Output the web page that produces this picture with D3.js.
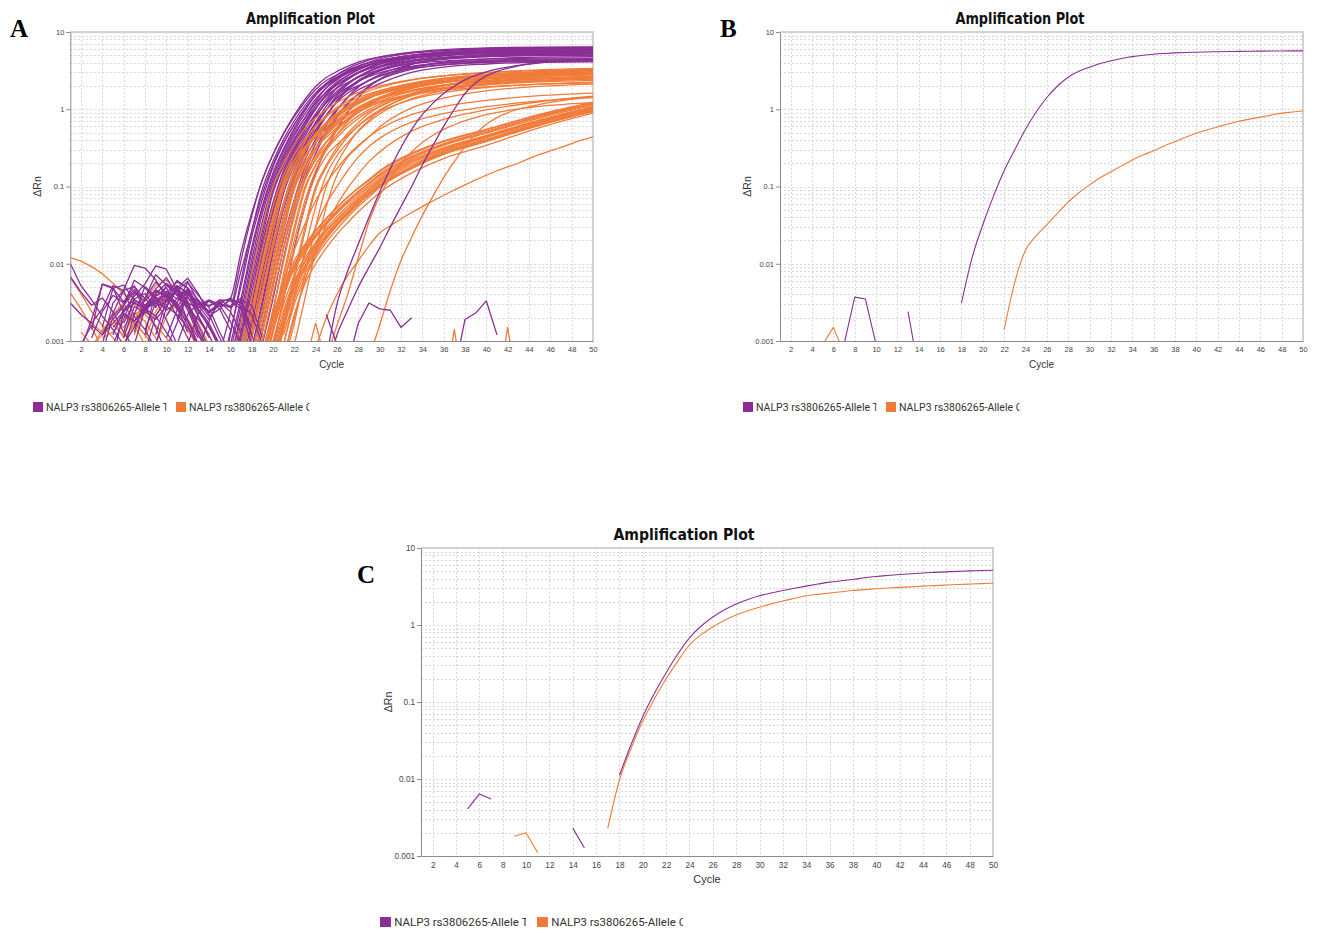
<!DOCTYPE html>
<html>
<head>
<meta charset="utf-8">
<script src="https://cdn.jsdelivr.net/npm/d3@7"></script>
<style>
  body { margin: 0; background: #fff; }
  svg { display: block; }
</style>
</head>
<body>
<svg id="fig" width="1319" height="934"></svg>
<script>
// ---------- shared labels ----------
const seriesNames = ["NALP3 rs3806265-Allele T", "NALP3 rs3806265-Allele C"];
const plotTitle = "Amplification Plot";
const xLabel = "Cycle";
const yLabel = "ΔRn";
const cycleTicks = [2, 4, 6, 8, 10, 12, 14, 16, 18, 20, 22, 24, 26, 28, 30, 32, 34, 36, 38, 40, 42, 44, 46, 48, 50];
const deltaRnTicks = [0.001, 0.01, 0.1, 1, 10];
const deltaRnTickLabels = ["0.001", "0.01", "0.1", "1", "10"];

// ---------- panel A: all wells ----------
// amplification curves sampled at these cycles (0 = ΔRn not positive)
const aKnotCycles = [15, 16, 17, 18, 19, 20, 21, 22, 23, 24, 25, 26, 27, 28, 29, 30, 33, 36, 40, 45, 50];

const aAlleleTCurves = [
  [0.0007,0.0023,0.011,0.041,0.122,0.26,0.49,0.84,1.34,1.97,2.57,3.09,3.58,4.07,4.45,4.77,5.42,5.8,6.06,6.18,6.2],
  [0.0003,0.0012,0.006,0.026,0.092,0.21,0.41,0.71,1.12,1.64,2.15,2.58,3.03,3.45,3.82,4.10,4.70,5.04,5.28,5.38,5.40],
  [0.00036,0.0013,0.0051,0.022,0.068,0.177,0.36,0.63,1.02,1.56,2.12,2.63,3.13,3.59,3.97,4.3,4.98,5.36,5.63,5.76,5.8],
  [0.00025,0.00089,0.0035,0.016,0.056,0.15,0.31,0.57,0.96,1.52,2.16,2.79,3.36,3.86,4.33,4.70,5.49,5.92,6.24,6.38,6.4],
  [0.00021,0.00074,0.0029,0.0138,0.051,0.138,0.287,0.53,0.87,1.36,1.89,2.40,2.92,3.36,3.76,4.08,4.80,5.18,5.46,5.6,5.62],
  [0.00014,0.00055,0.0023,0.011,0.044,0.123,0.26,0.49,0.77,1.21,1.67,2.09,2.55,2.93,3.33,3.62,4.27,4.61,4.87,5.0,5.0],
  [0.00024,0.0006,0.0019,0.0091,0.035,0.11,0.24,0.45,0.78,1.27,1.9,2.51,3.07,3.58,4.06,4.5,5.32,5.76,6.08,6.28,6.3],
  [0.0002,0.0005,0.0016,0.0076,0.030,0.10,0.22,0.41,0.68,1.04,1.48,1.88,2.21,2.59,2.94,3.26,3.88,4.21,4.45,4.58,4.6],
  [0.00017,0.00042,0.0013,0.0063,0.026,0.091,0.20,0.39,0.70,1.13,1.70,2.26,2.76,3.29,3.73,4.14,4.95,5.38,5.70,5.88,5.9],
  [0.00014,0.00034,0.0011,0.0052,0.022,0.082,0.186,0.36,0.64,1.03,1.55,2.08,2.53,3.01,3.42,3.84,4.62,5.03,5.32,5.48,5.5],
  [0.00012,0.0003,0.0011,0.0042,0.0186,0.062,0.164,0.335,0.60,1.0,1.56,2.18,2.71,3.23,3.72,4.16,5.02,5.5,5.86,6.03,6.1],
  [0.0001,0.00025,0.0009,0.0035,0.016,0.056,0.15,0.31,0.54,0.83,1.21,1.60,1.91,2.30,2.64,2.96,3.60,3.95,4.21,4.34,4.4],
  [0.00008,0.00021,0.00074,0.0029,0.0138,0.051,0.138,0.287,0.54,0.88,1.37,1.91,2.42,2.95,3.39,3.80,4.65,5.11,5.45,5.62,5.7],
  [0.00007,0.00017,0.00061,0.0024,0.0119,0.046,0.127,0.267,0.49,0.79,1.23,1.72,2.17,2.65,3.05,3.47,4.25,4.68,5.0,5.14,5.2],
  [0,0.00012,0.0006,0.0019,0.0091,0.035,0.11,0.24,0.45,0.78,1.27,1.89,2.49,3.02,3.51,3.99,4.98,5.51,5.91,6.12,6.2],
  [0,0.0001,0.0005,0.0016,0.0076,0.030,0.10,0.22,0.41,0.66,0.99,1.39,1.75,2.02,2.37,2.69,3.39,3.76,4.03,4.17,4.2],
  [0,0.00008,0.00042,0.0013,0.0063,0.026,0.091,0.20,0.39,0.68,1.10,1.63,2.17,2.64,3.13,3.55,4.5,5.0,5.37,5.54,5.6],
  [0,0.00007,0.00034,0.0011,0.0052,0.022,0.082,0.186,0.36,0.62,0.98,1.44,1.90,2.29,2.73,3.11,3.98,4.44,4.78,4.95,5.0],
  [0,0,0.0003,0.0011,0.0042,0.0186,0.062,0.164,0.335,0.60,0.98,1.52,2.09,2.61,3.11,3.6,4.65,5.21,5.61,5.84,5.9],
  [0,0,0.0002,0.0008,0.0033,0.015,0.054,0.145,0.30,0.54,0.84,1.23,1.62,1.96,2.36,2.71,3.54,3.97,4.27,4.45,4.5],
  [0,0,0.00021,0.00075,0.0029,0.0138,0.051,0.138,0.287,0.52,0.83,1.28,1.78,2.25,2.74,3.16,4.13,4.65,5.02,5.23,5.3],
  [0,0,0.00015,0.0007,0.0023,0.011,0.041,0.122,0.26,0.49,0.81,1.28,1.84,2.37,2.81,3.25,4.3,4.9,5.31,5.52,5.6],
  [0,0,0.0001,0.0005,0.0016,0.0076,0.030,0.10,0.22,0.41,0.67,1.0,1.41,1.79,2.07,2.43,3.29,3.77,4.09,4.26,4.3],
  [0,0,0,0.00036,0.0013,0.0051,0.0216,0.068,0.177,0.36,0.62,0.97,1.44,1.93,2.37,2.81,3.85,4.47,4.88,5.14,5.2],
  [0,0,0,0.00025,0.0009,0.0035,0.016,0.056,0.15,0.31,0.54,0.82,1.20,1.56,1.86,2.15,3.01,3.52,3.85,4.06,4.1],
  [0,0,0,0.00017,0.00062,0.0024,0.0119,0.046,0.127,0.267,0.49,0.77,1.15,1.57,1.98,2.41,3.45,4.08,4.5,4.73,4.8],
  [0.0028,0.0035,0.014,0.045,0.12,0.26,0.48,0.8,1.25,1.8,2.35,2.8,3.25,3.65,4.0,4.3,4.95,5.3,5.55,5.7,5.75],
  [0.003,0.0028,0.008,0.026,0.08,0.19,0.37,0.64,1.02,1.52,2.05,2.5,2.95,3.35,3.7,4.0,4.65,5.0,5.25,5.35,5.4],
  [0,0,0,0,0.00025,0.00089,0.0035,0.016,0.056,0.15,0.31,0.56,0.91,1.41,1.95,2.45,3.8,4.6,5.1,5.4,5.5]
];

const aAlleleCCurves = [
  // upper group
  [0.0001,0.0005,0.0017,0.0075,0.03,0.10,0.20,0.35,0.56,0.77,1.0,1.22,1.44,1.65,1.83,2.0,2.42,2.70,2.96,3.17,3.28],
  [0,0.00025,0.0009,0.0036,0.015,0.055,0.14,0.26,0.41,0.60,0.80,1.01,1.21,1.41,1.59,1.74,2.14,2.42,2.68,2.87,2.97],
  [0,0.00015,0.0007,0.0025,0.011,0.041,0.12,0.22,0.325,0.44,0.56,0.71,0.86,1.01,1.15,1.26,1.55,1.76,1.95,2.11,2.2],
  [0,0.00012,0.0006,0.002,0.009,0.035,0.11,0.214,0.38,0.61,0.82,1.06,1.29,1.52,1.73,1.92,2.39,2.71,3.0,3.24,3.38],
  [0,0.0001,0.0007,0.0022,0.009,0.032,0.10,0.19,0.32,0.48,0.66,0.85,1.04,1.23,1.40,1.56,1.96,2.23,2.48,2.67,2.79],
  [0,0.00008,0.00042,0.0014,0.0063,0.026,0.091,0.187,0.31,0.49,0.67,0.88,1.08,1.28,1.48,1.65,2.08,2.4,2.66,2.88,3.0],
  [0,0,0.00029,0.0012,0.0046,0.019,0.062,0.161,0.29,0.45,0.63,0.83,1.03,1.23,1.42,1.58,1.99,2.28,2.55,2.77,2.89],
  [0,0,0.0003,0.0011,0.0043,0.0174,0.06,0.15,0.286,0.45,0.67,0.89,1.11,1.33,1.53,1.72,2.18,2.52,2.81,3.05,3.18],
  [0,0,0.0003,0.0011,0.004,0.016,0.056,0.14,0.25,0.37,0.52,0.69,0.87,1.05,1.22,1.37,1.75,2.03,2.27,2.46,2.56],
  [0,0,0.00015,0.0007,0.0025,0.011,0.041,0.12,0.23,0.38,0.58,0.78,1.0,1.21,1.41,1.6,2.05,2.39,2.68,2.92,3.06],
  [0,0,0.00012,0.0006,0.002,0.009,0.035,0.11,0.203,0.32,0.43,0.58,0.75,0.91,1.07,1.22,1.58,1.85,2.07,2.26,2.37],
  [0,0,0.0001,0.0005,0.0017,0.0075,0.03,0.10,0.19,0.31,0.46,0.63,0.82,1.0,1.18,1.35,1.76,2.07,2.33,2.54,2.66],
  [0,0,0.0001,0.0004,0.0013,0.006,0.026,0.092,0.18,0.31,0.48,0.66,0.87,1.07,1.26,1.44,1.88,2.21,2.49,2.71,2.85],
  [0,0,0,0.00036,0.0013,0.0052,0.02,0.066,0.161,0.30,0.48,0.71,0.94,1.17,1.38,1.6,2.1,2.49,2.82,3.07,3.23],
  [0,0,0,0.0003,0.001,0.004,0.016,0.058,0.14,0.25,0.38,0.54,0.72,0.91,1.09,1.27,1.70,2.03,2.31,2.52,2.65],
  [0,0,0,0.00015,0.0007,0.0025,0.011,0.041,0.12,0.23,0.37,0.56,0.76,0.97,1.17,1.36,1.85,2.21,2.53,2.78,2.93],
  [0,0,0,0.00017,0.00062,0.0025,0.011,0.046,0.122,0.22,0.33,0.47,0.64,0.82,0.99,1.16,1.58,1.9,2.17,2.37,2.5],
  [0,0,0,0.0001,0.0005,0.0017,0.0075,0.03,0.10,0.19,0.30,0.43,0.59,0.76,0.93,1.10,1.53,1.84,2.12,2.33,2.46],
  [0,0,0,0.00008,0.00042,0.0014,0.0063,0.026,0.091,0.187,0.32,0.53,0.74,0.97,1.19,1.41,1.98,2.41,2.78,3.06,3.23],
  [0,0,0,0,0.00036,0.0013,0.0052,0.02,0.066,0.161,0.30,0.47,0.69,0.92,1.13,1.35,1.9,2.31,2.68,2.96,3.13],
  [0,0,0,0,0.00025,0.0009,0.0036,0.015,0.055,0.14,0.25,0.35,0.46,0.61,0.77,0.93,1.33,1.64,1.91,2.12,2.24],
  [0,0,0,0,0.0001,0.0005,0.0017,0.0075,0.03,0.10,0.19,0.32,0.49,0.67,0.88,1.07,1.61,2.01,2.36,2.64,2.80],
  [0,0,0,0,0.00008,0.00042,0.0014,0.0063,0.026,0.091,0.178,0.29,0.44,0.61,0.80,0.98,1.49,1.88,2.21,2.47,2.65],
  [0,0,0,0,0,0.00025,0.0009,0.0036,0.015,0.055,0.14,0.25,0.37,0.52,0.69,0.87,1.37,1.75,2.09,2.35,2.51],
  [0,0,0,0,0,0.0001,0.0005,0.0017,0.0075,0.03,0.10,0.20,0.34,0.53,0.72,0.94,1.55,2.02,2.46,2.79,2.99],
  [0,0,0,0,0,0,0.00025,0.0009,0.0036,0.015,0.055,0.14,0.24,0.33,0.44,0.59,1.04,1.39,1.73,1.98,2.12],
  // middle wells
  [0,0,0,0,0,0.0004,0.0015,0.005,0.013,0.03,0.06,0.1,0.16,0.24,0.33,0.42,0.68,0.88,1.08,1.28,1.42],
  [0,0,0,0,0,0,0.0006,0.002,0.006,0.015,0.032,0.058,0.095,0.145,0.21,0.28,0.52,0.74,0.98,1.25,1.48],
  [0,0,0,0,0.0005,0.002,0.006,0.015,0.033,0.065,0.11,0.17,0.25,0.34,0.44,0.55,0.85,1.08,1.3,1.5,1.62],
  // lower group
  [0,0,0,0,0.0006,0.002,0.005,0.01,0.017,0.026,0.038,0.053,0.072,0.095,0.12,0.155,0.26,0.38,0.54,0.86,1.24],
  [0,0,0,0,0.0004,0.0014,0.004,0.009,0.015,0.023,0.034,0.047,0.064,0.085,0.11,0.14,0.24,0.35,0.50,0.80,1.17],
  [0,0,0,0,0,0.0008,0.0025,0.006,0.011,0.018,0.027,0.038,0.052,0.07,0.092,0.12,0.21,0.31,0.45,0.72,1.06],
  [0,0,0,0,0.0003,0.001,0.003,0.007,0.012,0.019,0.029,0.041,0.056,0.075,0.098,0.125,0.22,0.32,0.46,0.73,1.08],
  [0,0,0,0,0,0.0005,0.0018,0.0045,0.009,0.015,0.023,0.033,0.046,0.062,0.081,0.105,0.18,0.28,0.41,0.66,0.98],
  [0,0,0,0,0.0005,0.0017,0.0045,0.0095,0.016,0.024,0.035,0.049,0.066,0.087,0.112,0.145,0.245,0.36,0.52,0.82,1.19],
  [0,0,0,0,0,0,0.0009,0.003,0.0065,0.012,0.019,0.028,0.04,0.055,0.073,0.097,0.17,0.26,0.38,0.62,0.93],
  [0,0,0,0,0,0.0006,0.002,0.005,0.0095,0.016,0.024,0.035,0.048,0.065,0.085,0.11,0.19,0.29,0.43,0.68,1.0],
  [0,0,0,0,0,0,0.0006,0.0022,0.0055,0.01,0.016,0.024,0.034,0.047,0.063,0.083,0.15,0.23,0.34,0.58,0.89],
  [0,0,0,0,0.0007,0.0022,0.0055,0.011,0.018,0.027,0.039,0.054,0.073,0.096,0.123,0.16,0.27,0.39,0.55,0.85,1.22],
  [0,0,0,0,0,0.0007,0.0022,0.0055,0.0105,0.017,0.026,0.037,0.051,0.068,0.089,0.115,0.20,0.30,0.44,0.70,1.03],
  [0,0,0,0,0,0.0004,0.0015,0.004,0.0085,0.014,0.022,0.032,0.045,0.06,0.079,0.102,0.18,0.27,0.40,0.64,0.95],
  [0,0,0,0,0.0004,0.0013,0.0038,0.0085,0.014,0.022,0.032,0.045,0.061,0.08,0.104,0.133,0.23,0.34,0.49,0.77,1.12],
  [0,0,0,0,0,0,0.0012,0.0035,0.0075,0.013,0.021,0.031,0.043,0.059,0.078,0.10,0.175,0.265,0.39,0.63,0.94]
];

// per-cycle readings starting at `from` (baseline noise, late wells)
const aAlleleTRuns = [
  {from: 1, v: [0.0101,0.0052,0.0034,0.0021,0.0014,0.0009]},
  {from: 1, v: [0.0068,0.0043,0.0029,0.0036,0.0024,0.0013,0.0008]},
  {from: 1, v: [0.0031,0.0022,0.0017,0.0026,0.0052,0.0045,0.0021,0.0014,0.0008]},
  {from: 2, v: [0.0008,0.0019,0.0054,0.0048,0.0032,0.0052,0.0028,0.0015,0.0007]},
  {from: 2, v: [0.0009,0.0016,0.0012,0.0023,0.0045,0.0051,0.0035,0.0028,0.0039,0.0044,0.0025,0.0012,0.0007]},
  {from: 3, v: [0.0014,0.0055,0.0049,0.0023,0.0018,0.0026,0.0021,0.0013,0.0008]},
  {from: 3, v: [0.0011,0.0024,0.0039,0.0031,0.0047,0.0025,0.0033,0.0019,0.0009]},
  {from: 4, v: [0.0009,0.0031,0.0046,0.0095,0.0088,0.0062,0.0037,0.0021,0.0011,0.0006]},
  {from: 4, v: [0.0012,0.0017,0.0024,0.0031,0.0027,0.0034,0.0039,0.0029,0.0016,0.0008]},
  {from: 4, v: [0.0007,0.0021,0.0029,0.0044,0.0036,0.0058,0.0042,0.0031,0.0019,0.0009]},
  {from: 4, v: [0.0015,0.0048,0.0053,0.0034,0.0027,0.0038,0.0049,0.0028,0.0013]},
  {from: 5, v: [0.0006,0.0024,0.0038,0.0055,0.0094,0.0085,0.0046,0.0028,0.0013,0.0008]},
  {from: 5, v: [0.0012,0.0026,0.0034,0.0029,0.0041,0.0056,0.0043,0.0018,0.0009]},
  {from: 5, v: [0.0009,0.0019,0.0042,0.0033,0.0046,0.0038,0.0052,0.0031,0.0014,0.0007]},
  {from: 5, v: [0.0015,0.0022,0.0018,0.0027,0.0033,0.0041,0.0026,0.0018,0.0011]},
  {from: 5, v: [0.0019,0.0028,0.0061,0.0049,0.0035,0.0029,0.0045,0.0033,0.0016,0.0008]},
  {from: 6, v: [0.0008,0.0022,0.0051,0.0037,0.0032,0.0048,0.0065,0.0041,0.0022,0.0011,0.0006]},
  {from: 6, v: [0.0011,0.0028,0.0023,0.0039,0.0044,0.0035,0.0047,0.0026,0.0017,0.0009]},
  {from: 6, v: [0.0017,0.0032,0.0024,0.0019,0.0028,0.0022,0.0015,0.0009]},
  {from: 6, v: [0.0013,0.0035,0.0041,0.0027,0.0053,0.0046,0.0038,0.0021,0.0012]},
  {from: 6, v: [0.0009,0.0015,0.0029,0.0036,0.0025,0.0031,0.0057,0.0039,0.0027,0.0013,0.0007]},
  {from: 7, v: [0.0009,0.0026,0.0031,0.0042,0.0058,0.0049,0.0034,0.0024,0.0031,0.0036,0.0028,0.0012,0.0005]},
  {from: 7, v: [0.0013,0.0036,0.0072,0.0053,0.0039,0.0027,0.0019,0.0012,0.0006]},
  {from: 7, v: [0.0016,0.0025,0.0047,0.0066,0.0039,0.0043,0.0024,0.0016,0.0008]},
  {from: 8, v: [0.0007,0.0021,0.0036,0.0061,0.0048,0.0029,0.0019,0.0033,0.0034,0.0031,0.0022,0.0009]},
  {from: 8, v: [0.0012,0.0044,0.0038,0.0027,0.0045,0.0021,0.0011]},
  {from: 8, v: [0.0014,0.0031,0.0027,0.0052,0.0041,0.0033,0.0023,0.0029,0.0018,0.0009]},
  {from: 9, v: [0.0009,0.0027,0.0051,0.0043,0.0026,0.0015,0.0009]},
  {from: 9, v: [0.0012,0.0034,0.0045,0.0059,0.0032,0.0021,0.0026,0.0014]},
  {from: 10, v: [0.0008,0.0017,0.0040,0.0032,0.0028,0.0034,0.0033,0.0026,0.0009]},
  {from: 10, v: [0.0011,0.0025,0.0036,0.0029,0.0024,0.0031,0.0027,0.0034,0.0029,0.0011]},
  {from: 10, v: [0.0021,0.0036,0.0031,0.0027,0.0033,0.0028]},
  {from: 11, v: [0.0009,0.0022,0.0031,0.0029,0.0032,0.0024,0.0013]},
  {from: 11, v: [0.0019,0.0042,0.0029,0.0034,0.003]},
  {from: 12, v: [0.0009,0.0023,0.0033,0.0026,0.0035,0.0031,0.0015]},
  {from: 13, v: [0.0008,0.0018,0.0034,0.0028,0.0036,0.0012]},
  {from: 25, v: [0.0022,0.0009]},
  {from: 27, v: [0.0005,0.0017,0.0031,0.0026,0.0025,0.0015,0.0020]},
  {from: 37, v: [0.0004,0.0019,0.0023,0.0033,0.0012]},
  {from: 25, v: [0.0004,0.0012,0.0025,0.005,0.009,0.016,0.03,0.055,0.1,0.19,0.34,0.6,1.0,1.6,2.2,2.7,3.1,3.4,3.65,3.85,4.0,4.12,4.22,4.3,4.36,4.42]},
  {from: 25, v: [0.0006,0.003,0.008,0.018,0.04,0.085,0.17,0.32,0.55,0.85,1.2,1.6,2.0,2.4,2.75,3.05,3.3,3.5,3.7,3.87,4.02,4.15,4.27,4.37,4.45,4.52]}
];

const aAlleleCRuns = [
  {from: 1, v: [0.012,0.0108,0.0092,0.0074,0.0056,0.0041,0.003,0.0022,0.0016,0.0011,0.0007]},
  {from: 1, v: [0.0042,0.0026,0.0015,0.0008]},
  {from: 1, v: [0.0066,0.0041,0.0024,0.0016,0.0011,0.0007]},
  {from: 2, v: [0.0013,0.0009,0.0012,0.0019,0.0015,0.0023,0.0018,0.0011,0.0006]},
  {from: 3, v: [0.0008,0.0014,0.0019,0.0011,0.0016,0.0009]},
  {from: 3, v: [0.0017,0.0013,0.0022,0.0031,0.0018,0.0012,0.0008]},
  {from: 4, v: [0.0011,0.0013,0.0021,0.0017,0.0012,0.0008]},
  {from: 5, v: [0.0016,0.0012,0.0022,0.0027,0.0021,0.0033,0.0026,0.0014,0.0008]},
  {from: 6, v: [0.0009,0.0018,0.0034,0.0052,0.0061,0.0047,0.0028,0.0014,0.0007]},
  {from: 7, v: [0.0012,0.0027,0.0041,0.0033,0.0046,0.0029,0.0017,0.0009]},
  {from: 8, v: [0.0011,0.0024,0.0038,0.0029,0.0019,0.0012,0.0007]},
  {from: 9, v: [0.0009,0.0021,0.0032,0.0044,0.0026,0.0015,0.0008]},
  {from: 23, v: [0.0005,0.0017,0.0005]},
  {from: 36, v: [0.0002,0.0014,0.0002]},
  {from: 41, v: [0.0002,0.0015,0.0002]},
  {from: 29, v: [0.0006,0.0016,0.0045,0.011,0.022,0.042,0.075,0.13,0.21,0.33,0.48,0.64,0.78,0.9,1.0,1.08,1.16,1.23,1.29,1.35,1.4,1.45]},
  {from: 25, v: [0.0006,0.0016,0.004,0.012,0.035,0.075,0.13,0.2,0.28,0.37,0.46,0.55,0.63,0.71,0.78,0.85,0.91,0.96,1.01,1.05,1.09,1.12,1.15,1.18,1.2,1.22]},
  {from: 23, v: [0.0003,0.0008,0.002,0.004,0.007,0.011,0.017,0.025,0.031,0.038,0.046,0.055,0.065,0.077,0.09,0.105,0.122,0.14,0.16,0.18,0.2,0.23,0.26,0.29,0.32,0.36,0.4,0.44]}
];

// ---------- panel B: single well ----------
const bAlleleTRuns = [
  {from: 7, v: [0.0009,0.0037,0.0035,0.0009]},
  {from: 13, v: [0.0024,0.0004]},
  {from: 18, v: [0.0031,0.012,0.032,0.075,0.16,0.30,0.55,0.92,1.42,2.0,2.6,3.1,3.5,3.9,4.25,4.55,4.8,5.0,5.15,5.27,5.36,5.43,5.48,5.52,5.56,5.59,5.61,5.63,5.65,5.67,5.68,5.69,5.7]}
];
const bAlleleCRuns = [
  {from: 5, v: [0.0009,0.0015,0.0007]},
  {from: 22, v: [0.0014,0.0058,0.015,0.023,0.032,0.045,0.063,0.083,0.105,0.13,0.155,0.185,0.22,0.255,0.29,0.335,0.38,0.435,0.49,0.54,0.59,0.645,0.70,0.745,0.79,0.84,0.89,0.92,0.95]}
];

// ---------- panel C: single well ----------
const cAlleleTRuns = [
  {from: 5, v: [0.0041,0.0064,0.0055]},
  {from: 14, v: [0.0023,0.00127]},
  {from: 18, v: [0.0112,0.028,0.065,0.13,0.24,0.42,0.68,0.97,1.27,1.58,1.88,2.15,2.4,2.6,2.8,3.0,3.2,3.4,3.6,3.75,3.9,4.1,4.27,4.4,4.52,4.63,4.73,4.82,4.9,4.97,5.04,5.1,5.15]}
];
const cAlleleCRuns = [
  {from: 9, v: [0.0018,0.002,0.0011]},
  {from: 17, v: [0.0023,0.0097,0.025,0.057,0.11,0.2,0.34,0.55,0.75,0.94,1.15,1.35,1.53,1.7,1.88,2.05,2.22,2.4,2.5,2.6,2.7,2.8,2.88,2.95,3.02,3.08,3.13,3.2,3.25,3.3,3.35,3.4,3.45,3.5]}
];

// ---------- drawing ----------
const colorT = "#8a2e96";
const colorC = "#f07b39";
const FONT_AXIS = "'Liberation Sans', Arial, sans-serif";
const FONT_LEGEND = "Roboto, 'Liberation Sans', sans-serif";
const FONT_TITLE = "'DejaVu Sans', Verdana, sans-serif";
const FONT_LETTER = "'Liberation Serif', 'Times New Roman', serif";

const svg = d3.select("#fig");
svg.append("rect").attr("width", 1319).attr("height", 934).attr("fill", "#fff");

function drawPanel(p) {
  const box = p.box, s = p.s;
  const x = d3.scaleLinear().domain([1, 50]).range([box.left, box.right]);
  const y = d3.scaleLog().domain([0.001, 10]).range([box.bottom, box.top]);
  const g = svg.append("g");

  // log-spaced horizontal grid and vertical grid at the labelled cycles
  g.append("g").selectAll("line").data(y.ticks().filter(v => v > 0.001)).join("line")
    .attr("x1", box.left).attr("x2", box.right)
    .attr("y1", d => Math.round(y(d)) + 0.5).attr("y2", d => Math.round(y(d)) + 0.5)
    .attr("stroke", "#d8d8d8").attr("stroke-dasharray", "2,2");
  g.append("g").selectAll("line").data(cycleTicks).join("line")
    .attr("x1", d => Math.round(x(d)) + 0.5).attr("x2", d => Math.round(x(d)) + 0.5)
    .attr("y1", box.top).attr("y2", box.bottom)
    .attr("stroke", "#d8d8d8").attr("stroke-dasharray", "2,2");

  // light frame on the top and right
  g.append("path").attr("d", `M${box.left},${box.top}H${box.right}V${box.bottom}`)
    .attr("fill", "none").attr("stroke", "#d2d2d2").attr("stroke-width", 2);

  const clipId = "clip-" + p.id;
  svg.append("clipPath").attr("id", clipId).append("rect")
    .attr("x", box.left).attr("y", box.top)
    .attr("width", box.right - box.left).attr("height", box.bottom - box.top);
  const plot = g.append("g").attr("clip-path", `url(#${clipId})`);

  const knotLine = d3.line().defined(d => d.v > 0).x(d => x(d.c)).y(d => y(d.v)).curve(d3.curveMonotoneX);
  const runLine = d3.line().defined(d => d.v > 0).x(d => x(d.c)).y(d => y(d.v));

  const addCurves = (rows, color) => plot.append("g").selectAll("path").data(rows).join("path")
    .attr("d", r => knotLine(r.map((v, i) => ({c: p.knots[i], v}))))
    .attr("fill", "none").attr("stroke", color).attr("stroke-width", p.lw)
    .attr("stroke-linejoin", "round");
  // long runs are whole amplification curves and are drawn smoothly
  const addRuns = (runs, color) => plot.append("g").selectAll("path").data(runs).join("path")
    .attr("d", r => {
      const pts = r.v.map((v, i) => ({c: r.from + i, v}));
      return (r.v.length >= 15 ? knotLine : runLine)(pts);
    })
    .attr("fill", "none").attr("stroke", color).attr("stroke-width", p.lw)
    .attr("stroke-linejoin", "round");

  if (p.curvesT) addCurves(p.curvesT, colorT);
  if (p.curvesC) addCurves(p.curvesC, colorC);
  addRuns(p.runsC, colorC);
  addRuns(p.runsT, colorT);

  // axes
  const ya = g.append("g").attr("transform", `translate(${box.left},0)`)
    .call(d3.axisLeft(y).tickValues(deltaRnTicks).tickFormat((d, i) => deltaRnTickLabels[i])
      .tickSizeInner(4).tickSizeOuter(0).tickPadding(2));
  const xa = g.append("g").attr("transform", `translate(0,${box.bottom})`)
    .call(d3.axisBottom(x).tickValues(cycleTicks).tickSizeInner(0).tickSizeOuter(0).tickPadding(6));
  [ya, xa].forEach(a => {
    a.attr("font-family", FONT_AXIS).attr("font-size", 7.5 * s);
    a.select(".domain").attr("stroke", "#8c8c8c");
    a.selectAll(".tick line").attr("stroke", "#8c8c8c");
    a.selectAll(".tick text").attr("fill", "#444");
  });

  // axis titles
  g.append("text").attr("x", (box.left + box.right) / 2).attr("y", box.bottom + 27)
    .attr("text-anchor", "middle").attr("font-family", FONT_AXIS).attr("font-size", 10 * s)
    .attr("fill", "#333").text(xLabel);
  g.append("text")
    .attr("transform", `translate(${p.yLabelX},${(box.top + box.bottom) / 2}) rotate(-90)`)
    .attr("text-anchor", "middle").attr("dy", "0.35em")
    .attr("font-family", FONT_AXIS).attr("font-size", 10.5).attr("fill", "#333").text(yLabel);

  // title
  g.append("text").attr("x", p.titleX).attr("y", p.titleY).attr("text-anchor", "middle")
    .attr("font-family", FONT_TITLE).attr("font-weight", "bold").attr("font-stretch", "condensed")
    .attr("font-size", 15).attr("textLength", 129 * s).attr("lengthAdjust", "spacingAndGlyphs")
    .attr("fill", "#111").text(plotTitle);

  // panel letter
  g.append("text").attr("x", p.letterX).attr("y", p.letterY)
    .attr("font-family", FONT_LETTER).attr("font-weight", "bold").attr("font-size", 25)
    .attr("fill", "#000").text(p.letter);

  // legend (entries cut at a fixed width)
  const items = [
    {x: p.legendX[0], color: colorT, name: seriesNames[0]},
    {x: p.legendX[1], color: colorC, name: seriesNames[1]}
  ];
  items.forEach((it, i) => {
    g.append("rect").attr("x", it.x).attr("y", p.legendY)
      .attr("width", 10 * s).attr("height", 10).attr("fill", it.color);
    const cid = `leg-${p.id}-${i}`;
    svg.append("clipPath").attr("id", cid).append("rect")
      .attr("x", it.x + 12 * s).attr("y", p.legendY - 5)
      .attr("width", 121.5 * s).attr("height", 22);
    g.append("text").attr("x", it.x + 13 * s).attr("y", p.legendY + 9)
      .attr("font-family", FONT_LEGEND).attr("font-size", 10.5 * s).attr("fill", "#333")
      .attr("clip-path", `url(#${cid})`).text(it.name);
  });
}

drawPanel({
  id: "A", letter: "A", box: {left: 70.3, right: 593, top: 32, bottom: 341}, s: 1, lw: 1.3,
  knots: aKnotCycles, curvesT: aAlleleTCurves, curvesC: aAlleleCCurves,
  runsT: aAlleleTRuns, runsC: aAlleleCRuns,
  titleX: 310.5, titleY: 24, letterX: 10, letterY: 37, yLabelX: 37.5,
  legendX: [33, 176], legendY: 402
});
drawPanel({
  id: "B", letter: "B", box: {left: 780, right: 1303, top: 32, bottom: 341}, s: 1, lw: 1.1,
  runsT: bAlleleTRuns, runsC: bAlleleCRuns,
  titleX: 1020, titleY: 24, letterX: 720, letterY: 37, yLabelX: 747.5,
  legendX: [743, 886], legendY: 402
});
drawPanel({
  id: "C", letter: "C", box: {left: 421, right: 993, top: 548, bottom: 856}, s: 1.094, lw: 1.1,
  runsT: cAlleleTRuns, runsC: cAlleleCRuns,
  titleX: 684, titleY: 540, letterX: 357, letterY: 583, yLabelX: 388,
  legendX: [380, 537], legendY: 917
});
</script>
</body>
</html>
